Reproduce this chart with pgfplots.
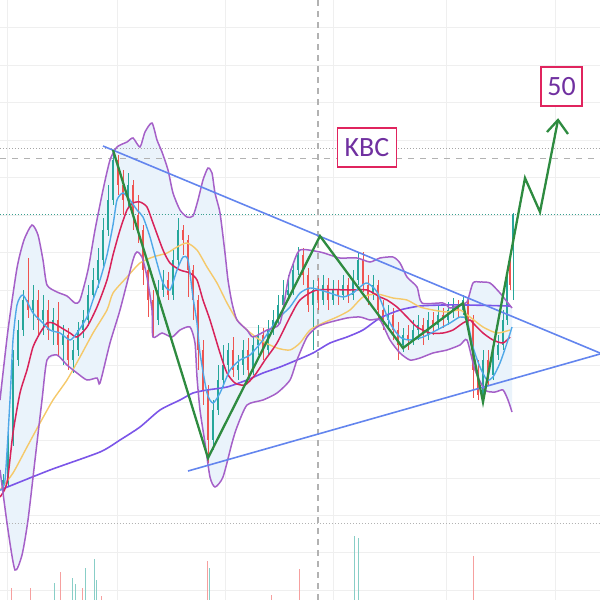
\documentclass[border=0pt]{standalone}
\usepackage{pgfplots}
\pgfplotsset{compat=1.18}
\usepackage{pgfplotstable}
\usepackage{fontspec}
\setmainfont{Carlito}
\definecolor{upc}{HTML}{26A69A}
\definecolor{dnc}{HTML}{EF5350}
\definecolor{bbc}{HTML}{A560C8}
\definecolor{emaA}{HTML}{4FA8E8}
\definecolor{emaB}{HTML}{D8235A}
\definecolor{emaC}{HTML}{F5C96A}
\definecolor{maS}{HTML}{7B55E8}
\definecolor{tri}{HTML}{6385EE}
\definecolor{zz}{HTML}{2E8B40}
\definecolor{bandfill}{HTML}{EAF3FB}
\definecolor{gridc}{HTML}{EFEFEF}
\definecolor{boxb}{HTML}{E0245E}
\definecolor{boxt}{HTML}{7030A0}
\definecolor{tealdot}{HTML}{3AA090}

% candles in pixel coords: x, wick top, wick bottom, body top, body bottom
\pgfplotstableread{
x wt wb bt bb
3 474 496 480 490
8 432 486 440 480
13 350 446 360 440
18 320 366 330 360
23 290 336 300 330
33 285 330 300 310
43 295 335 310 320
53 308 345 320 330
63 325 365 335 345
73 340 373 350 360
78 322 356 330 350
83 310 338 320 330
88 285 326 295 320
93 268 300 280 295
98 248 288 260 280
103 218 266 230 260
108 185 236 200 230
113 150 205 160 200
128 173 207 185 200
158 280 325 290 320
163 270 297 280 290
173 250 300 260 295
178 218 265 230 260
213 400 450 410 440
218 365 415 380 410
223 345 388 365 380
228 343 372 350 365
238 355 380 365 370
243 340 375 350 365
253 335 375 345 370
258 325 355 335 345
268 320 355 330 350
273 310 335 320 330
278 295 325 305 320
283 280 310 295 305
288 275 300 290 295
293 262 295 270 290
298 247 275 255 270
313 280 350 290 305
323 275 305 285 300
333 280 305 290 300
343 275 300 285 295
353 270 300 280 295
358 253 285 260 280
373 275 300 285 295
388 305 328 315 320
403 328 352 335 345
413 320 345 330 340
418 315 340 325 330
428 312 340 320 335
438 305 330 315 325
448 302 325 310 320
453 298 318 305 310
463 295 315 300 310
483 350 400 360 395
493 345 380 355 375
498 335 360 345 355
503 310 350 320 345
507 270 325 280 320
513 213 300 215 245
}\upcandles

\pgfplotstableread{
x wt wb bt bb
28 258 318 300 310
38 290 335 300 320
48 300 340 310 330
58 302 357 320 345
68 328 370 335 360
118 155 195 160 185
123 170 215 185 200
133 180 230 185 215
138 195 243 215 230
143 225 285 230 270
148 262 317 270 300
153 290 337 300 320
168 272 300 280 295
183 225 255 230 240
188 235 297 240 270
193 265 320 270 300
198 295 370 300 350
203 340 405 350 390
208 385 463 390 440
233 337 377 350 370
248 338 378 350 370
263 328 360 335 350
303 248 285 255 275
308 268 312 275 305
318 278 310 290 300
328 278 310 285 300
338 280 305 290 295
348 278 303 285 295
363 252 292 260 285
368 275 305 285 295
378 280 318 285 310
383 300 330 310 320
393 308 340 315 330
398 322 360 330 345
408 325 350 335 340
423 318 345 325 335
433 312 335 320 325
443 308 328 315 320
458 300 318 305 310
468 296 330 300 320
473 315 398 320 370
478 360 400 370 395
488 350 385 360 375
510 255 290 262 285
}\dncandles

\pgfplotstableread{
x top
54 583
72 578
75 584
85 568
94 559
96 580
209 568
354 536
358 538
}\upvol

\pgfplotstableread{
x top
11 588
30 588
60 572
82 588
101 596
207 561
271 595
299 569
473 556
}\dnvol

\begin{document}
\begin{tikzpicture}
\begin{axis}[
  at={(0,0)}, anchor=south west,
  scale only axis, width=600bp, height=600bp,
  xmin=0, xmax=600, ymin=0, ymax=600, y dir=reverse,
  axis line style={draw=none}, tick style={draw=none},
  xtick={7,117,225,333,446,555},
  ytick={27,65,102,140,177,215,252,290,327,365,402,440,478,515,552,590},
  xticklabels={}, yticklabels={},
  grid=major, grid style={gridc, line width=0.8bp},
  clip=true,
  candle/.style={draw=none, mark=none, forget plot, error bars/.cd, y dir=plus, y explicit, error mark=none},
]
% band fill
\addplot[fill=bandfill, draw=none, forget plot] coordinates {
(0,400)(8,330)(17,268)(24,240)(32,225)(38,235)(43,260)(47,285)(57,292)(67,296)(75,303)(80,300)(88,270)(95,230)(103,190)(110,160)(117,147)(127,142)(133,138)(140,147)(145,132)(152,123)(157,140)(162,152)(168,170)(173,193)(180,210)(187,217)(193,216)(198,200)(203,180)(208,168)(212,173)(215,193)(220,213)(225,253)(228,280)(232,303)(237,320)(247,330)(253,337)(267,330)(280,323)(288,280)(292,267)(300,250)(320,252)(330,255)(340,258)(357,258)(370,262)(380,258)(393,257)(400,263)(407,277)(417,287)(422,303)(443,303)(450,308)(460,305)(467,302)(473,283)(480,282)(490,283)(500,293)(508,303)(512,308)
(512,412)(508,400)(503,390)(495,392)(485,390)(475,370)(467,340)(460,345)(447,350)(433,353)(420,358)(410,360)(400,353)(390,340)(380,320)(370,320)(360,317)(347,318)(327,323)(317,327)(307,337)(297,360)(290,380)(277,393)(263,400)(247,405)(237,427)(232,443)(223,477)(215,487)(210,477)(205,443)(200,410)(197,377)(195,343)(190,327)(180,330)(172,337)(162,333)(153,337)(152,310)(147,277)(142,257)(137,252)(133,260)(120,310)(110,343)(100,383)(97,378)(87,380)(77,373)(67,365)(57,355)(47,360)(42,400)(35,460)(28,520)(22,555)(15,570)(8,530)(0,470)
} -- cycle;
% horizontal reference lines
\addplot[gray!70, dotted, line width=1bp, forget plot] coordinates {(0,148)(600,148)};
\addplot[gray!60, dash pattern=on 6bp off 6bp, line width=1bp, forget plot] coordinates {(0,158)(600,158)};
\addplot[tealdot, dotted, line width=1bp, forget plot] coordinates {(0,214)(600,214)};
\addplot[gray!60, dotted, line width=1bp, forget plot] coordinates {(0,523)(600,523)};
\addplot[gray!60, dash pattern=on 6bp off 5bp, line width=1.5bp, forget plot] coordinates {(318,0)(318,600)};
% volume
\addplot[candle, error bar style={draw=upc!55, line width=1bp}] table[x=x, y=top, y error expr=600-\thisrow{top}] {\upvol};
\addplot[candle, error bar style={draw=dnc!55, line width=1bp}] table[x=x, y=top, y error expr=600-\thisrow{top}] {\dnvol};
% candles: wicks
\addplot[candle, error bar style={draw=upc, line width=0.8bp}] table[x=x, y=wt, y error expr=\thisrow{wb}-\thisrow{wt}] {\upcandles};
\addplot[candle, error bar style={draw=dnc, line width=0.8bp}] table[x=x, y=wt, y error expr=\thisrow{wb}-\thisrow{wt}] {\dncandles};
% candles: bodies
\addplot[candle, error bar style={draw=upc, line width=2.4bp}] table[x=x, y=bt, y error expr=\thisrow{bb}-\thisrow{bt}] {\upcandles};
\addplot[candle, error bar style={draw=dnc, line width=2.4bp}] table[x=x, y=bt, y error expr=\thisrow{bb}-\thisrow{bt}] {\dncandles};
% slow MA
\addplot[maS, line width=1.6bp, smooth, tension=0.4, forget plot] coordinates {
(0,490)(50,470)(100,452)(120,440)(140,427)(160,410)(180,400)(193,393)(207,390)(227,387)(247,380)(263,373)(280,367)(297,360)(313,353)(330,343)(347,337)(363,330)(380,318)(400,310)(420,306)(443,305)(467,305)(510,306)};
% yellow MA
\addplot[emaC, line width=1.4bp, smooth, tension=0.4, forget plot] coordinates {
(0,490)(13,473)(27,447)(40,423)(53,400)(67,380)(80,357)(93,333)(107,310)(113,293)(127,277)(140,263)(153,257)(167,253)(177,247)(187,243)(197,250)(207,267)(217,283)(227,303)(237,320)(247,330)(260,340)(277,348)(290,350)(300,343)(310,330)(323,323)(337,317)(350,310)(363,297)(377,294)(393,298)(407,300)(420,307)(433,310)(447,312)(460,310)(470,317)(483,327)(497,333)(510,330)};
% red MA
\addplot[emaB, line width=1.5bp, smooth, tension=0.4, forget plot] coordinates {
(0,497)(7,483)(13,433)(20,393)(27,370)(33,347)(40,333)(47,323)(53,323)(60,327)(70,333)(77,337)(87,327)(97,307)(107,280)(113,255)(120,230)(127,210)(133,203)(140,202)(147,207)(153,223)(163,250)(170,263)(180,270)(190,273)(197,280)(203,300)(210,320)(220,353)(227,373)(235,383)(245,385)(255,375)(265,360)(277,343)(290,317)(300,300)(317,290)(350,290)(367,290)(380,297)(387,300)(397,307)(407,317)(417,327)(430,333)(443,333)(453,330)(463,323)(470,320)(473,323)(483,333)(493,340)(503,343)(510,337)};
% cyan MA
\addplot[emaA, line width=1.4bp, smooth, tension=0.4, forget plot] coordinates {
(0,490)(5,480)(10,400)(13,340)(17,305)(23,295)(33,313)(40,320)(50,330)(60,333)(70,340)(77,333)(87,317)(93,300)(100,280)(107,255)(113,225)(117,200)(123,193)(130,200)(137,210)(143,217)(150,237)(157,263)(163,283)(170,290)(177,270)(183,257)(188,260)(193,297)(197,323)(200,353)(207,393)(213,403)(220,393)(230,370)(240,360)(250,355)(263,340)(277,320)(290,307)(300,293)(310,288)(320,290)(330,293)(343,297)(353,293)(360,287)(367,283)(377,292)(390,323)(400,337)(410,340)(423,337)(437,330)(450,323)(460,317)(467,320)(473,347)(480,367)(487,380)(493,377)(500,363)(507,343)(512,327)};
% Bollinger upper
\addplot[bbc, line width=1.5bp, smooth, tension=0.4, forget plot] coordinates {
(0,400)(8,330)(17,268)(24,240)(32,225)(38,235)(43,260)(47,285)(57,292)(67,296)(75,303)(80,300)(88,270)(95,230)(103,190)(110,160)(117,147)(127,142)(133,138)(140,147)(145,132)(152,123)(157,140)(162,152)(168,170)(173,193)(180,210)(187,217)(193,216)(198,200)(203,180)(208,168)(212,173)(215,193)(220,213)(225,253)(228,280)(232,303)(237,320)(247,330)(253,337)(267,330)(280,323)(288,280)(292,267)(300,250)(320,252)(330,255)(340,258)(357,258)(370,262)(380,258)(393,257)(400,263)(407,277)(417,287)(422,303)(443,303)(450,308)(460,305)(467,302)(473,283)(480,282)(490,283)(500,293)(508,303)(512,308)};
% Bollinger lower
\addplot[bbc, line width=1.5bp, smooth, tension=0.4, forget plot] coordinates {
(0,470)(8,530)(15,570)(22,555)(28,520)(35,460)(42,400)(47,360)(57,355)(67,365)(77,373)(87,380)(97,378)(100,383)(110,343)(120,310)(133,260)(137,252)(142,257)(147,277)(152,310)(153,337)(162,333)(172,337)(180,330)(190,327)(195,343)(197,377)(200,410)(205,443)(210,477)(215,487)(223,477)(232,443)(237,427)(247,405)(263,400)(277,393)(290,380)(297,360)(307,337)(317,327)(327,323)(347,318)(360,317)(370,320)(380,320)(390,340)(400,353)(410,360)(420,358)(433,353)(447,350)(460,345)(467,340)(475,370)(485,390)(495,392)(503,390)(508,400)(512,412)};
% triangle
\addplot[tri, line width=1.6bp, forget plot] coordinates {(103,146)(600,353)};
\addplot[tri, line width=1.6bp, forget plot] coordinates {(188,471)(600,354)};
% zigzag projection
\addplot[zz, line width=2.3bp, forget plot] coordinates {
(113,150)(208,458)(320,236)(403,348)(463,303)(483,402)(525,178)(540,212)(558,120)};
\addplot[zz, line width=2.3bp, forget plot] coordinates {(547,132)(558,120)(568,134)};
% labels
\node[draw=boxb, line width=1.6bp, fill=white, minimum width=59bp, minimum height=39bp, inner sep=0pt,
  text=boxt, font=\fontsize{28}{28}\selectfont] at (axis cs:367,147.5) {KBC};
\node[draw=boxb, line width=1.6bp, fill=white, minimum width=41bp, minimum height=39bp, inner sep=0pt,
  text=boxt, font=\fontsize{28}{28}\selectfont] at (axis cs:561.5,86.5) {50};
\end{axis}
\pgfresetboundingbox
\path (0,0) rectangle (600bp,600bp);
\end{tikzpicture}
\end{document}
